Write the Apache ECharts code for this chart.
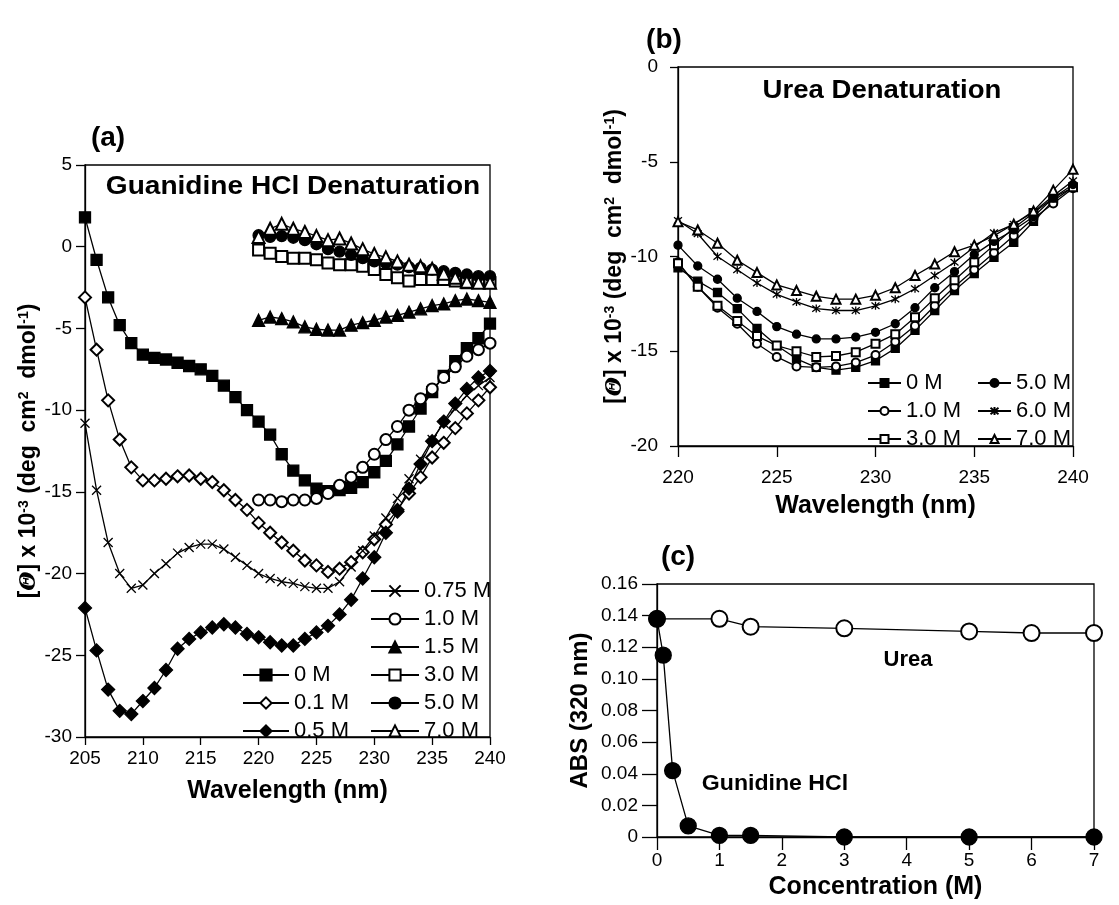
<!DOCTYPE html>
<html>
<head>
<meta charset="utf-8">
<script src="https://cdn.jsdelivr.net/npm/echarts@6/dist/echarts.min.js"></script>
<style>
html, body { margin: 0; padding: 0; background: #fff; }
#main { width: 1119px; height: 905px; }
</style>
</head>
<body>
<div id="main"></div>
<script>
// ---- data ----
// (a) guanidine HCl, wavelength in nm
const wlFull = [205,206,207,208,209,210,211,212,213,214,215,216,217,218,219,220,221,222,223,224,225,226,227,228,229,230,231,232,233,234,235,236,237,238,239,240];
const wlShort = [220,221,222,223,224,225,226,227,228,229,230,231,232,233,234,235,236,237,238,239,240];
const gdn00 = [1.8,-0.8,-3.1,-4.8,-5.9,-6.6,-6.8,-6.9,-7.1,-7.3,-7.5,-7.9,-8.5,-9.2,-10.0,-10.7,-11.5,-12.7,-13.7,-14.3,-14.8,-14.95,-14.9,-14.75,-14.4,-13.8,-13.1,-12.1,-11.0,-9.9,-8.9,-7.9,-7.0,-6.2,-5.6,-4.7];
const gdn01 = [-3.1,-6.3,-9.4,-11.8,-13.5,-14.3,-14.3,-14.2,-14.05,-14.0,-14.2,-14.4,-14.9,-15.5,-16.1,-16.9,-17.5,-18.1,-18.6,-19.2,-19.5,-19.9,-19.7,-19.3,-18.7,-17.9,-17.0,-16.1,-15.1,-14.1,-12.9,-12.0,-11.1,-10.2,-9.4,-8.6];
const gdn05 = [-22.1,-24.7,-27.1,-28.4,-28.6,-27.8,-27.0,-25.9,-24.6,-24.0,-23.6,-23.3,-23.1,-23.3,-23.7,-23.9,-24.2,-24.4,-24.4,-24.0,-23.6,-23.2,-22.5,-21.6,-20.3,-19.0,-17.5,-16.2,-14.8,-13.3,-11.9,-10.7,-9.6,-8.7,-8.0,-7.6];
const gdn075 = [-10.8,-14.9,-18.1,-20.0,-20.9,-20.7,-20.0,-19.4,-18.75,-18.4,-18.2,-18.2,-18.5,-19.0,-19.5,-20.0,-20.3,-20.5,-20.6,-20.8,-20.9,-20.9,-20.5,-19.6,-18.6,-17.7,-16.6,-15.4,-14.2,-13.0,-11.8,-10.8,-9.9,-9.1,-8.5,-8.0];
const gdn10 = [-15.5,-15.5,-15.6,-15.5,-15.5,-15.4,-15.1,-14.6,-14.1,-13.5,-12.7,-11.8,-11.0,-10.0,-9.3,-8.7,-8.0,-7.35,-6.7,-6.3,-5.9];
const gdn15 = [-4.5,-4.3,-4.4,-4.6,-4.9,-5.05,-5.1,-5.1,-4.8,-4.65,-4.5,-4.3,-4.2,-4.0,-3.8,-3.6,-3.5,-3.3,-3.2,-3.3,-3.4];
const gdn30 = [-0.2,-0.4,-0.6,-0.7,-0.7,-0.8,-1.0,-1.1,-1.1,-1.2,-1.4,-1.7,-1.9,-2.1,-2.0,-2.0,-2.0,-2.1,-2.2,-2.1,-2.2];
const gdn50 = [0.7,0.6,0.65,0.55,0.4,0.15,-0.15,-0.3,-0.5,-0.7,-0.9,-1.0,-1.1,-1.25,-1.3,-1.4,-1.5,-1.6,-1.7,-1.8,-1.8];
const gdn70 = [0.6,1.1,1.4,1.1,0.9,0.65,0.4,0.5,0.2,-0.15,-0.45,-0.65,-0.9,-1.1,-1.2,-1.35,-1.65,-1.9,-2.15,-2.2,-2.2];

// (b) urea, wavelength in nm
const wlUrea = [220,221,222,223,224,225,226,227,228,229,230,231,232,233,234,235,236,237,238,239,240];
const urea0 = [-10.6,-11.3,-11.9,-12.75,-13.8,-14.7,-15.4,-15.85,-16.0,-15.85,-15.5,-14.85,-13.9,-12.85,-11.8,-10.9,-10.05,-9.25,-8.15,-7.05,-6.35];
const urea1 = [-10.3,-11.6,-12.7,-13.55,-14.6,-15.3,-15.8,-15.85,-15.8,-15.6,-15.2,-14.5,-13.65,-12.6,-11.6,-10.7,-9.8,-8.9,-8.0,-7.2,-6.4];
const urea3 = [-10.35,-11.6,-12.6,-13.4,-14.2,-14.7,-15.0,-15.3,-15.25,-15.05,-14.6,-14.1,-13.2,-12.2,-11.25,-10.3,-9.4,-8.5,-7.7,-6.9,-6.35];
const urea5 = [-9.4,-10.5,-11.2,-12.2,-12.9,-13.7,-14.1,-14.35,-14.35,-14.25,-14.0,-13.55,-12.7,-11.65,-10.8,-9.9,-9.2,-8.6,-7.9,-6.9,-6.2];
const urea6 = [-8.1,-8.8,-10.0,-10.7,-11.4,-12.0,-12.4,-12.75,-12.85,-12.85,-12.6,-12.25,-11.7,-11.0,-10.3,-9.5,-8.75,-8.3,-7.65,-6.8,-6.0];
const urea7 = [-8.16,-8.6,-9.3,-10.2,-10.85,-11.5,-11.8,-12.1,-12.25,-12.25,-12.05,-11.65,-11.0,-10.4,-9.75,-9.4,-8.9,-8.3,-7.6,-6.5,-5.4];

// (c) absorbance at 320 nm vs denaturant concentration (M)
const concUrea = [0,1,1.5,3,5,6,7];
const absUrea = [0.138,0.138,0.133,0.132,0.130,0.129,0.129];
const concGdn = [0,0.1,0.25,0.5,1,1.5,3,5,7];
const absGdn = [0.138,0.115,0.042,0.007,0.001,0.001,0,0,0];

const legendA1 = ['0 M','0.1 M','0.5 M'];
const legendA2 = ['0.75 M','1.0 M','1.5 M','3.0 M','5.0 M','7.0 M'];
const legendB1 = ['0 M','1.0 M','3.0 M'];
const legendB2 = ['5.0 M','6.0 M','7.0 M'];

// ---- chart ----
const FONT = 'Liberation Sans, Arial, Helvetica, sans-serif';
const crossSym = 'path://M0,0L10,10M10,0L0,10';
const starSym = 'path://M1,1L9,9M9,1L1,9M5,0L5,10';

const thetaName = '[{th|Θ}] x 10{sup|-3} (deg  cm{sup|2}  dmol{sup|-1})';
const nameRich = {
  th: { fontFamily: 'DejaVu Serif', fontStyle: 'italic', fontSize: 22, color: '#000' },
  sup: { fontFamily: FONT, fontWeight: 'bold', fontSize: 14, verticalAlign: 'top', color: '#000' }
};

function line(name, xs, ys, symbol, size, idx) {
  return {
    type: 'line', name: name, xAxisIndex: idx, yAxisIndex: idx,
    data: xs.map((x, i) => [x, ys[i]]),
    symbol: symbol, symbolSize: size, showAllSymbol: true, clip: false,
    lineStyle: { color: '#000', width: 1.3 },
    itemStyle: { color: '#000', borderColor: '#000', borderWidth: 1.3 },
    emphasis: { disabled: true }
  };
}

function axis(idx, min, max, interval, o) {
  return {
    type: 'value', gridIndex: idx, min: min, max: max, interval: interval,
    name: o.name, nameLocation: 'middle', nameGap: o.nameGap,
    nameTextStyle: { color: '#000', fontFamily: FONT, fontWeight: 'bold', fontSize: o.nameSize || 25, rich: nameRich },
    axisLine: { show: true, onZero: false, lineStyle: { color: '#000', width: 1.3 } },
    axisTick: { show: true, inside: false, length: o.tick || 8, lineStyle: { color: '#000', width: 1.3 } },
    axisLabel: { color: '#000', fontFamily: FONT, fontSize: 19, margin: o.margin || 12, formatter: o.fmt },
    splitLine: { show: false }
  };
}

function legend(data, left, top, w, h) {
  return {
    data: data, orient: 'vertical', left: left, top: top,
    itemWidth: w, itemHeight: h, itemGap: 4, selectedMode: false,
    textStyle: { color: '#000', fontFamily: FONT, fontSize: 22, lineHeight: 24 }
  };
}

function label(text, x, y, size, sx) {
  return {
    type: 'text', x: x, y: y, scaleX: sx || 1,
    style: { text: text, fill: '#000', font: 'bold ' + size + 'px ' + FONT, align: 'center', verticalAlign: 'middle' }
  };
}

const chart = echarts.init(document.getElementById('main'), null, { renderer: 'canvas' });
chart.setOption({
  animation: false,
  backgroundColor: '#fff',
  grid: [
    { left: 85, top: 165, width: 405, height: 572, show: true, borderColor: '#000', borderWidth: 1.3 },
    { left: 678, top: 67, width: 395, height: 379, show: true, borderColor: '#000', borderWidth: 1.3 },
    { left: 657, top: 584, width: 437, height: 253, show: true, borderColor: '#000', borderWidth: 1.3 }
  ],
  xAxis: [
    axis(0, 205, 240, 5, { name: 'Wavelength (nm)', nameGap: 42, margin: 12 }),
    axis(1, 220, 240, 5, { name: 'Wavelength (nm)', nameGap: 48, margin: 22, tick: 11 }),
    axis(2, 0, 7, 1, { name: 'Concentration (M)', nameGap: 38, margin: 14, tick: 13 })
  ],
  yAxis: [
    axis(0, -30, 5, 5, { name: thetaName, nameGap: 44, nameSize: 23, margin: 13, tick: 9 }),
    axis(1, -20, 0, 5, { name: thetaName, nameGap: 48, nameSize: 23, margin: 20 }),
    axis(2, 0, 0.16, 0.02, { name: 'ABS (320 nm)', nameGap: 65, nameSize: 24, margin: 19, tick: 15,
      fmt: v => (v === 0 ? '0' : v.toFixed(2)) })
  ],
  legend: [
    legend(legendA1, 237, 658, 46, 14),
    legend(legendA2, 365, 574, 48, 14),
    legend(legendB1, 862, 366, 33, 10),
    legend(legendB2, 972, 366, 33, 10)
  ],
  graphic: [
    label('(a)', 108, 138, 28),
    label('(b)', 664, 40, 28),
    label('(c)', 678, 557, 28),
    label('Guanidine HCl Denaturation', 293, 187, 26, 1.08),
    label('Urea Denaturation', 882, 91, 26, 1.06),
    label('Urea', 908, 660, 22),
    label('Gunidine HCl', 775, 784, 22, 1.05)
  ],
  series: [
    line('0 M', wlFull, gdn00, 'rect', 11, 0),
    line('0.1 M', wlFull, gdn01, 'emptyDiamond', 12, 0),
    line('0.5 M', wlFull, gdn05, 'diamond', 13, 0),
    line('0.75 M', wlFull, gdn075, crossSym, 9, 0),
    line('1.0 M', wlShort, gdn10, 'emptyCircle', 11, 0),
    line('1.5 M', wlShort, gdn15, 'triangle', 12, 0),
    line('3.0 M', wlShort, gdn30, 'emptyRect', 11, 0),
    line('5.0 M', wlShort, gdn50, 'circle', 11, 0),
    line('7.0 M', wlShort, gdn70, 'emptyTriangle', 12, 0),

    line('0 M', wlUrea, urea0, 'rect', 8, 1),
    line('1.0 M', wlUrea, urea1, 'emptyCircle', 8, 1),
    line('3.0 M', wlUrea, urea3, 'emptyRect', 8, 1),
    line('5.0 M', wlUrea, urea5, 'circle', 8, 1),
    line('6.0 M', wlUrea, urea6, starSym, 8, 1),
    line('7.0 M', wlUrea, urea7, 'emptyTriangle', 9, 1),

    line('Urea', concUrea, absUrea, 'emptyCircle', 16, 2),
    line('Gunidine HCl', concGdn, absGdn, 'circle', 16, 2)
  ]
});
</script>
</body>
</html>
